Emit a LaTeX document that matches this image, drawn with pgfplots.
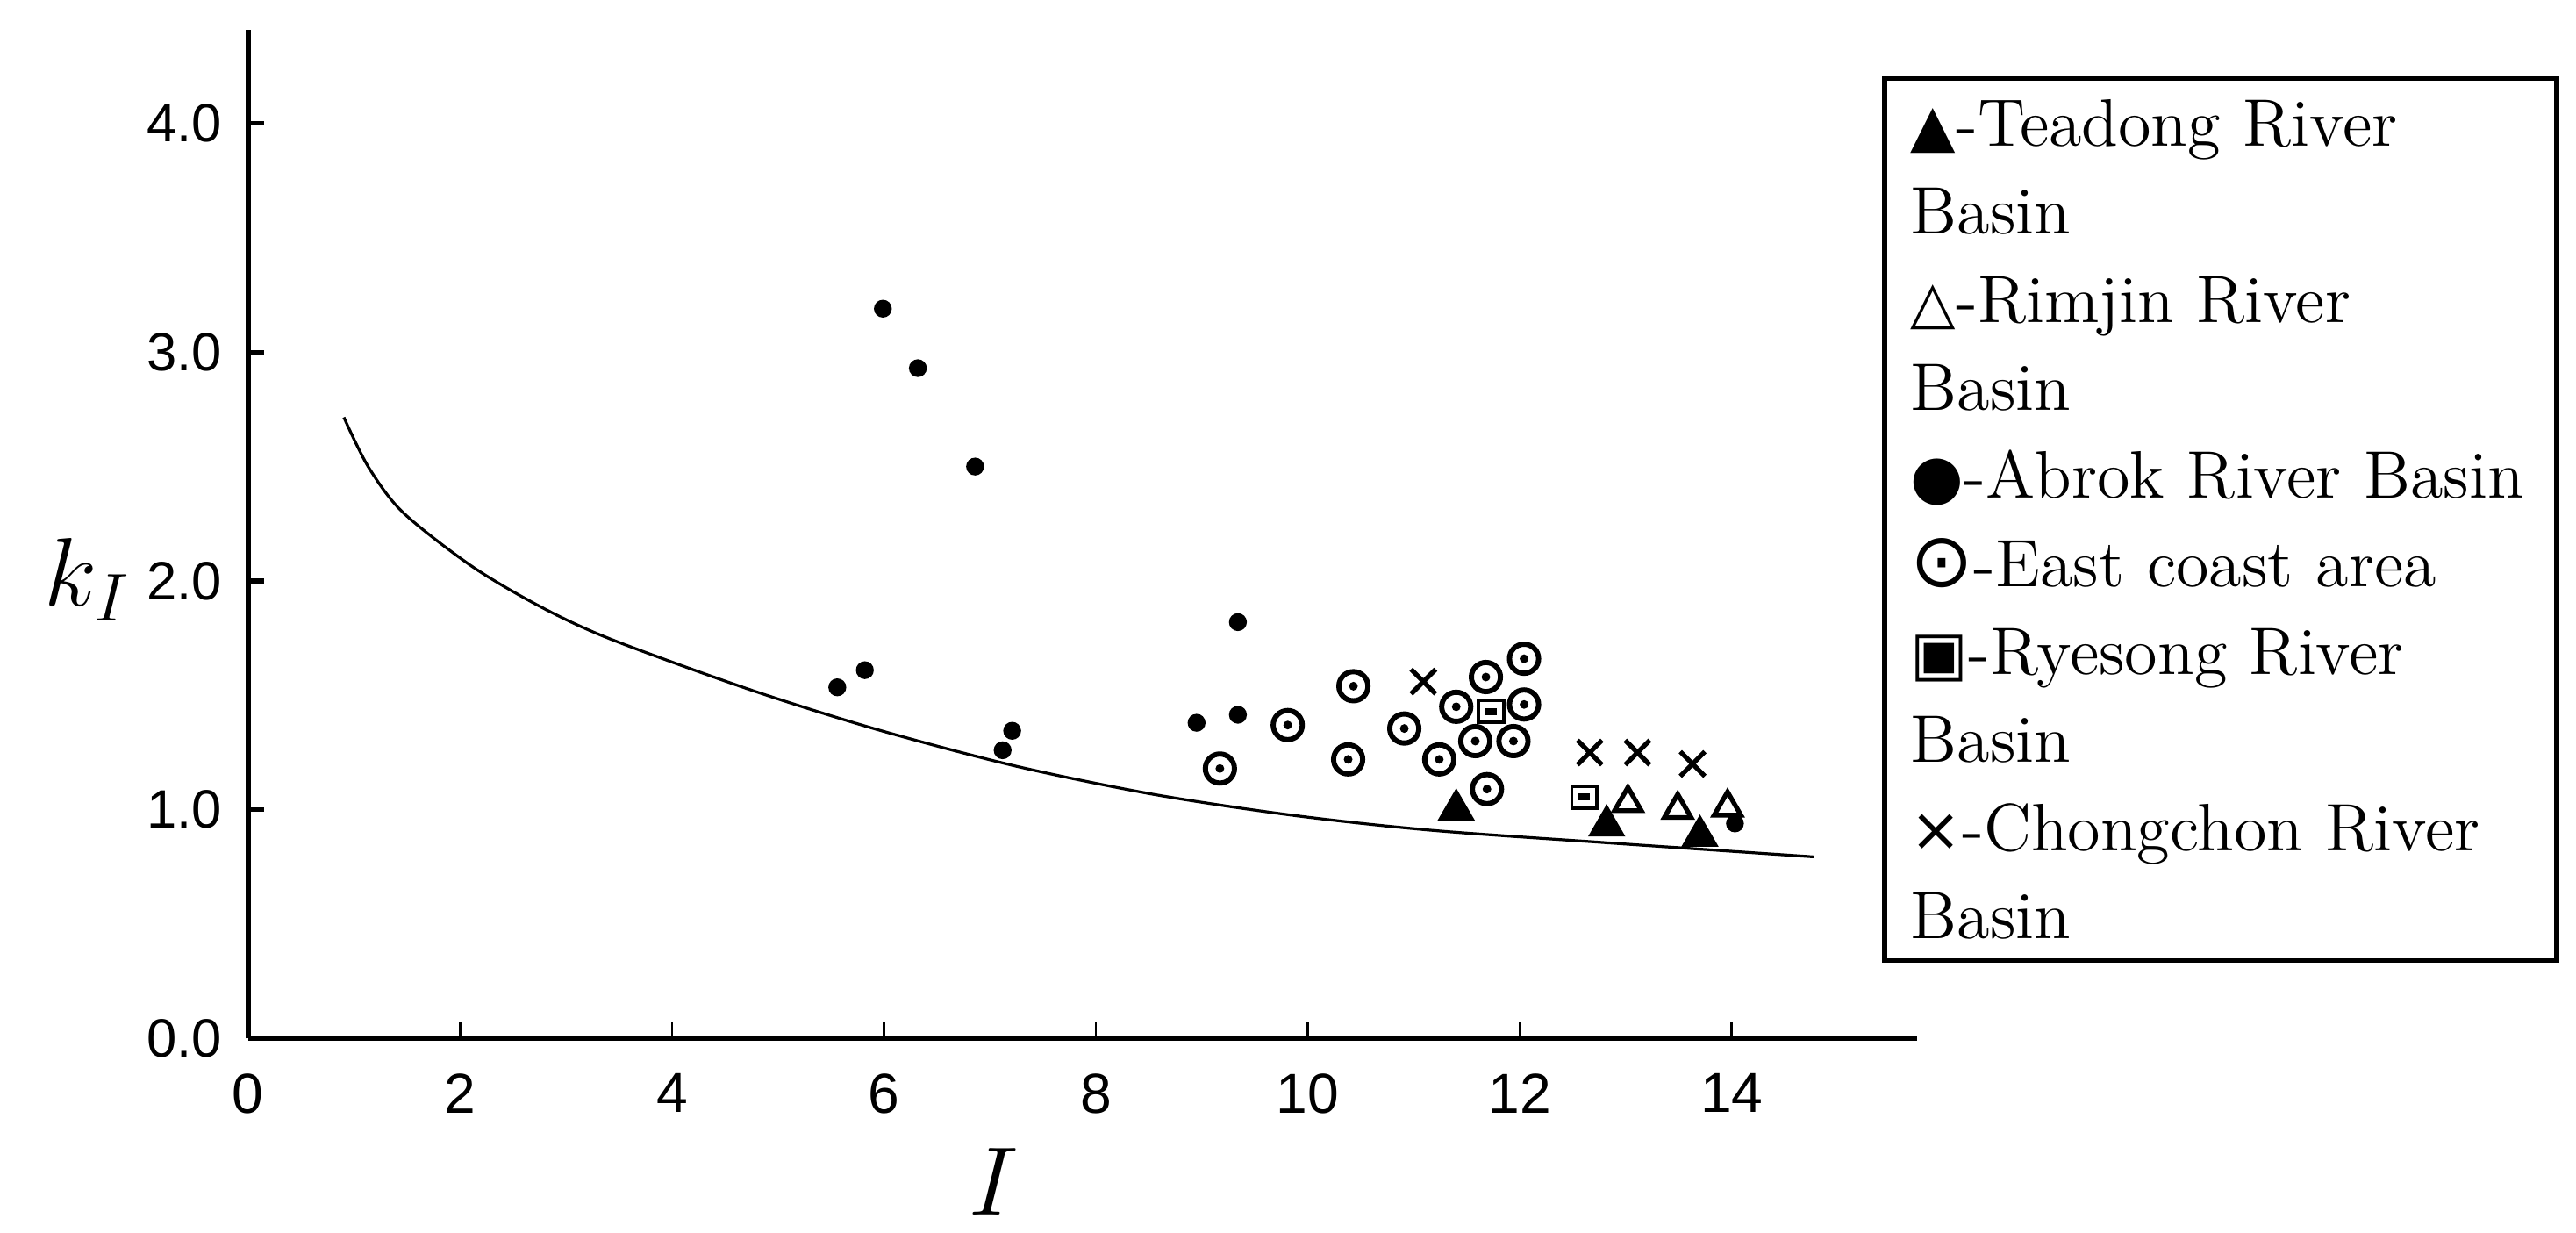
\documentclass[border=0pt]{standalone}
\usepackage{pgfplots}
\pgfplotsset{compat=1.18}
\usepackage{fontspec}
\newfontfamily\arialfont{Liberation Sans}
\newfontfamily\symfont{DejaVu Sans}

\pgfdeclareplotmark{odot}{%
  \pgfpathcircle{\pgfpointorigin}{\pgfplotmarksize}\pgfusepathqstroke
  \pgfpathcircle{\pgfpointorigin}{0.3\pgfplotmarksize}\pgfusepathqfill}
\pgfdeclareplotmark{sqdot}{%
  \pgfpathrectangle{\pgfpoint{-\pgfplotmarksize}{-0.87\pgfplotmarksize}}{\pgfpoint{2\pgfplotmarksize}{1.74\pgfplotmarksize}}\pgfusepathqstroke
  \pgfpathrectangle{\pgfpoint{-0.45\pgfplotmarksize}{-0.28\pgfplotmarksize}}{\pgfpoint{0.9\pgfplotmarksize}{0.56\pgfplotmarksize}}\pgfusepathqfill}

\begin{document}
\begin{tikzpicture}
\path[use as bounding box] (-52.85pt,-41.3pt) rectangle (495.95pt,221.2pt);
\begin{axis}[
  at={(0,0)}, anchor=south west,
  scale only axis,
  width=355.6pt, height=214.9pt,
  xmin=0, xmax=15.75, ymin=0, ymax=4.41,
  axis lines*=left,
  axis line style={line width=1.1pt, -},
  tick align=inside,
  xtick={0,2,...,14},
  ytick={0,1,2,3,4},
  xtick style={line width=0.5pt, black},
  ytick style={line width=1pt, black},
  major tick length=3.5pt,
  /pgf/number format/assume math mode=true,
  yticklabel={\pgfmathprintnumber[fixed,fixed zerofill,precision=1]{\tick}},
  yticklabel style={font=\arialfont\fontsize{11.5}{13}\selectfont, xshift=-2pt},
  xticklabel style={font=\arialfont\fontsize{12}{14}\selectfont, yshift=-4pt},
  xlabel={$I$},
  ylabel={$k_I$},
  xlabel style={font=\fontsize{20}{24}\selectfont, at={(axis description cs:0.447,-0.142)}, anchor=center},
  ylabel style={font=\fontsize{22}{26}\selectfont, rotate=-90, at={(axis description cs:-0.096,0.455)}, anchor=center},
  clip=false,
]
% fitted curve
\addplot[smooth, line width=0.6pt, black] coordinates {
  (0.904,2.715) (1.133,2.50) (1.46,2.30) (2.115,2.063) (2.769,1.885)
  (3.425,1.745) (4.735,1.525) (5.94,1.35) (7.25,1.19) (8.558,1.066)
  (9.868,0.975) (11.17,0.91) (12.871,0.854) (14.771,0.794)
};
% Abrok River Basin
\addplot[only marks, mark=*, mark size=1.7pt, black] coordinates {
  (5.99,3.19) (6.32,2.93) (6.86,2.50) (5.56,1.535) (5.82,1.61) (7.21,1.345)
  (7.12,1.26) (9.34,1.82) (9.34,1.415) (8.95,1.38) (14.03,0.94)
};
% East coast area
\addplot[only marks, mark=odot, mark size=3.1pt, line width=1.1pt, black] coordinates {
  (9.17,1.18) (9.81,1.37) (10.43,1.54) (10.38,1.22) (10.91,1.355) (11.24,1.22)
  (11.40,1.45) (11.68,1.58) (12.04,1.66) (12.04,1.46) (11.58,1.30) (11.94,1.30)
  (11.69,1.09)
};
% Ryesong River Basin
\addplot[only marks, mark=sqdot, mark size=2.7pt, line width=0.7pt, black] coordinates {
  (11.73,1.43) (12.61,1.055)
};
% Chongchon River Basin
\addplot[only marks, mark=x, mark size=3.7pt, line width=1pt, black] coordinates {
  (11.09,1.56) (12.66,1.25) (13.11,1.25) (13.63,1.20)
};
% Teadong River Basin
\addplot[only marks, mark=triangle*, mark size=4.2pt, black] coordinates {
  (11.40,1.00) (12.82,0.93) (13.70,0.885)
};
% Rimjin River Basin
\addplot[only marks, mark=triangle, mark size=3.3pt, line width=1pt, black] coordinates {
  (13.02,1.03) (13.49,1.00) (13.96,1.01)
};
\node[draw=black, line width=1pt, anchor=north west, text width=132pt,
      inner xsep=5.6pt, inner ysep=4.5pt, align=left,
      font=\fontsize{14.3}{18.76}\selectfont]
  at (rel axis cs:0.979,0.954) {%
  {\symfont\fontsize{12.5}{12}\selectfont ▲}-Teadong River\\
  Basin\\
  {\symfont\fontsize{12.5}{12}\selectfont △}-Rimjin River\\
  Basin\\
  {\symfont\fontsize{13}{12}\selectfont ●}-Abrok River Basin\\
  {\symfont\fontsize{16}{12}\selectfont ⊙}-East coast area\\
  {\symfont\fontsize{13}{12}\selectfont ▣}-Ryesong River\\
  Basin\\
  {\symfont\fontsize{13}{12}\selectfont ×}-Chongchon River\\
  Basin};
\end{axis}
\end{tikzpicture}
\end{document}
